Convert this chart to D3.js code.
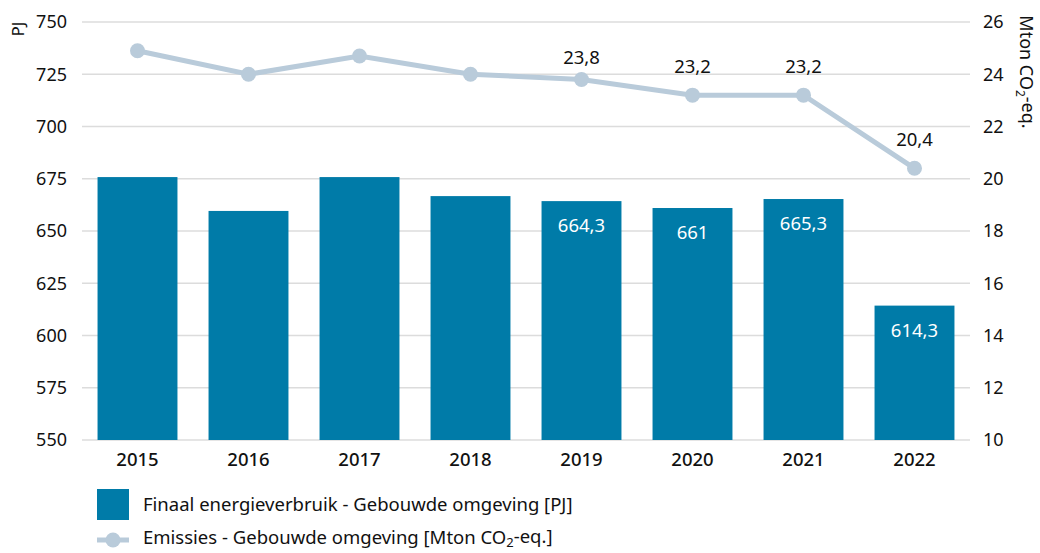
<!DOCTYPE html>
<html>
<head>
<meta charset="utf-8">
<script src="https://cdn.jsdelivr.net/npm/d3@7"></script>
<style>
  body { margin: 0; background: #fff; }
  svg text { font-family: "Noto Sans", "Open Sans", sans-serif; fill: #111; }
</style>
</head>
<body>
<svg id="chart" width="1040" height="553"></svg>
<script>
const years = ["2015", "2016", "2017", "2018", "2019", "2020", "2021", "2022"]
const energie = [675.8, 659.6, 675.8, 666.7, 664.3, 661, 665.3, 614.3]
const emissies = [24.9, 24.0, 24.7, 24.0, 23.8, 23.2, 23.2, 20.4]
// only the last four years carry value labels
const showLabel = [false, false, false, false, true, true, true, true]
const leftTicks = [550, 575, 600, 625, 650, 675, 700, 725, 750]
const rightTicks = [10, 12, 14, 16, 18, 20, 22, 24, 26]

const fmt = v => String(v).replace(".", ",")
const svg = d3.select("#chart")
const plotL = 82, plotR = 970, plotT = 22, plotB = 440
const fs = "18.5px"

const x = d3.scaleBand().domain(years).range([plotL, plotR]).paddingInner(0.28).paddingOuter(0.14)
const yL = d3.scaleLinear().domain([550, 750]).range([plotB, plotT])
const yR = d3.scaleLinear().domain([10, 26]).range([plotB, plotT])

// grid
svg.append("g").selectAll("line").data(leftTicks).join("line")
  .attr("x1", plotL).attr("x2", plotR)
  .attr("y1", d => yL(d)).attr("y2", d => yL(d))
  .attr("stroke", "#dcdcdc").attr("stroke-width", 1.5)

// left axis
svg.append("g").selectAll("text").data(leftTicks).join("text")
  .attr("x", 67).attr("y", d => yL(d)).attr("dy", "0.35em")
  .attr("text-anchor", "end").style("font-size", "18px")
  .text(d => d)

// right axis
svg.append("g").selectAll("text").data(rightTicks).join("text")
  .attr("x", 983).attr("y", d => yR(d)).attr("dy", "0.35em")
  .style("font-size", "18px")
  .text(d => d)

svg.append("text")
  .attr("transform", "translate(18,29) rotate(-90)")
  .attr("text-anchor", "middle").attr("dy", "0.35em")
  .style("font-size", "17px").text("PJ")

const rl = svg.append("text")
  .attr("transform", "translate(1026,72) rotate(90)")
  .attr("text-anchor", "middle").attr("dy", "0.35em")
  .style("font-size", "18px")
rl.append("tspan").text("Mton CO")
rl.append("tspan").attr("dy", "0.3em").style("font-size", "12px").text("2")
rl.append("tspan").attr("dy", "-0.3em").text("-eq.")

// bars
svg.append("g").selectAll("rect").data(years).join("rect")
  .attr("x", d => x(d)).attr("width", x.bandwidth())
  .attr("y", (d, i) => yL(energie[i]))
  .attr("height", (d, i) => plotB - yL(energie[i]))
  .attr("fill", "#007ba8")

svg.append("g").selectAll("text").data(years.filter((d, i) => showLabel[i])).join("text")
  .attr("x", d => x(d) + x.bandwidth() / 2)
  .attr("y", d => yL(energie[years.indexOf(d)]) + 31)
  .attr("text-anchor", "middle").style("font-size", fs).style("fill", "#fff")
  .text(d => fmt(energie[years.indexOf(d)]))

// x labels
svg.append("g").selectAll("text").data(years).join("text")
  .attr("x", d => x(d) + x.bandwidth() / 2).attr("y", 460).attr("dy", "0.35em")
  .attr("text-anchor", "middle").style("font-size", "18.5px").style("font-weight", 500)
  .text(d => d)

// emissions line
const lineColor = "#b9cbda"
const line = d3.line().x((d, i) => x(years[i]) + x.bandwidth() / 2).y(d => yR(d))
svg.append("path").datum(emissies)
  .attr("d", line).attr("fill", "none")
  .attr("stroke", lineColor).attr("stroke-width", 5)

svg.append("g").selectAll("circle").data(emissies).join("circle")
  .attr("cx", (d, i) => x(years[i]) + x.bandwidth() / 2)
  .attr("cy", d => yR(d)).attr("r", 7.5)
  .attr("fill", lineColor)

svg.append("g").selectAll("text").data(emissies.map((v, i) => ({v, i})).filter(d => showLabel[d.i])).join("text")
  .attr("x", d => x(years[d.i]) + x.bandwidth() / 2)
  .attr("y", d => Math.max(yR(d.v) - 22, 64))
  .attr("text-anchor", "middle").style("font-size", fs)
  .text(d => fmt(d.v))

// legend
const lg = svg.append("g")
lg.append("rect").attr("x", 97).attr("y", 489).attr("width", 32).attr("height", 31).attr("fill", "#007ba8")
lg.append("text").attr("x", 143).attr("y", 505).attr("dy", "0.35em")
  .style("font-size", fs).text("Finaal energieverbruik - Gebouwde omgeving [PJ]")
lg.append("line").attr("x1", 97).attr("x2", 129).attr("y1", 540).attr("y2", 540)
  .attr("stroke", lineColor).attr("stroke-width", 5)
lg.append("circle").attr("cx", 113).attr("cy", 540).attr("r", 7.5).attr("fill", lineColor)
const lt = lg.append("text").attr("x", 143).attr("y", 538).attr("dy", "0.35em").style("font-size", fs)
lt.append("tspan").text("Emissies - Gebouwde omgeving [Mton CO")
lt.append("tspan").attr("dy", "0.2em").style("font-size", "13px").text("2")
lt.append("tspan").attr("dy", "-0.2em").text("-eq.]")
</script>
</body>
</html>
